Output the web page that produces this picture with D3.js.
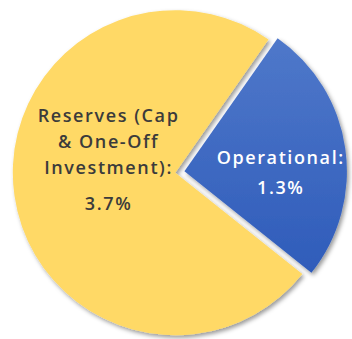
<!DOCTYPE html>
<html>
<head>
<meta charset="utf-8">
<script src="https://cdn.jsdelivr.net/npm/d3@7"></script>
<style>
  html, body { margin: 0; padding: 0; background: #fff; }
  svg { display: block; }
</style>
</head>
<body>
<svg id="chart" width="352" height="339"></svg>
<script>
// Budget split, in percent
const categories = ["Operational", "Reserves (Cap & One-Off Investment)"];
const values = [1.3, 3.7];
// Wrapped label text for each slice (value line is appended)
const labelLines = [["Operational:"], ["Reserves (Cap", "& One-Off", "Investment):"]];

const W = 352, H = 339;
const cx = 176.5, cy = 172.5, R = 162.5;
const startDeg = 35;
const explode = [8, 1.2];

const svg = d3.select("#chart");
const defs = svg.append("defs");

const shadow = defs.append("filter").attr("id", "shadow")
  .attr("x", "-20%").attr("y", "-20%").attr("width", "140%").attr("height", "140%");
shadow.append("feDropShadow")
  .attr("dx", 2).attr("dy", 2.5).attr("stdDeviation", 2)
  .attr("flood-color", "#000").attr("flood-opacity", 0.4);

const blueGrad = defs.append("linearGradient").attr("id", "blueGrad")
  .attr("x1", 0).attr("y1", 0).attr("x2", 0).attr("y2", 1);
blueGrad.append("stop").attr("offset", "0%").attr("stop-color", "#4f78ca");
blueGrad.append("stop").attr("offset", "100%").attr("stop-color", "#2f5cba");

const fills = ["url(#blueGrad)", "#ffd966"];
const textColors = ["#ffffff", "#3b3b3b"];

const pie = d3.pie().sort(null)
  .startAngle(startDeg * Math.PI / 180)
  .endAngle((startDeg + 360) * Math.PI / 180);
const arcs = pie(values);
const arc = d3.arc().innerRadius(0).outerRadius(R);

const g = svg.append("g").attr("transform", `translate(${cx},${cy})`);

const slices = g.selectAll("g.slice").data(arcs).join("g")
  .attr("class", "slice")
  .attr("transform", (d, i) => {
    const mid = (d.startAngle + d.endAngle) / 2;
    return `translate(${explode[i] * Math.sin(mid)},${-explode[i] * Math.cos(mid)})`;
  });

// Draw the large slice first so the small one's shadow sits on top of it
slices.sort((a, b) => b.index - a.index);

slices.append("path")
  .attr("d", arc)
  .attr("fill", (d, i) => fills[d.index])
  .attr("filter", "url(#shadow)");

// Label placement: fraction of the radius along the mid angle, extra vertical
// shift, and the gap before each line
const labelPos = [
  { r: 0.594, dy: 21, lineH: [0, 30] },
  { r: 0.42, dy: -16, lineH: [0, 26, 26, 36] }
];
const spacing = 1.6;

slices.each(function (d) {
  const i = d.index;
  const lines = labelLines[i].concat([d3.format(".1f")(values[i]) + "%"]);
  const mid = (d.startAngle + d.endAngle) / 2;
  const p = labelPos[i];
  const x = R * p.r * Math.sin(mid) + spacing / 2;
  const y = -R * p.r * Math.cos(mid);
  const offsets = [];
  let acc = 0;
  p.lineH.forEach(h => { acc += h; offsets.push(acc); });
  const total = offsets[offsets.length - 1];
  const t = d3.select(this).append("text")
    .attr("text-anchor", "middle")
    .attr("font-family", "'Open Sans', sans-serif")
    .attr("font-weight", 600)
    .attr("font-size", 18)
    .attr("letter-spacing", spacing)
    .attr("fill", textColors[i]);
  lines.forEach((ln, k) => {
    t.append("tspan")
      .attr("x", x)
      .attr("y", y - total / 2 + offsets[k] + p.dy)
      .text(ln);
  });
});
</script>
</body>
</html>
